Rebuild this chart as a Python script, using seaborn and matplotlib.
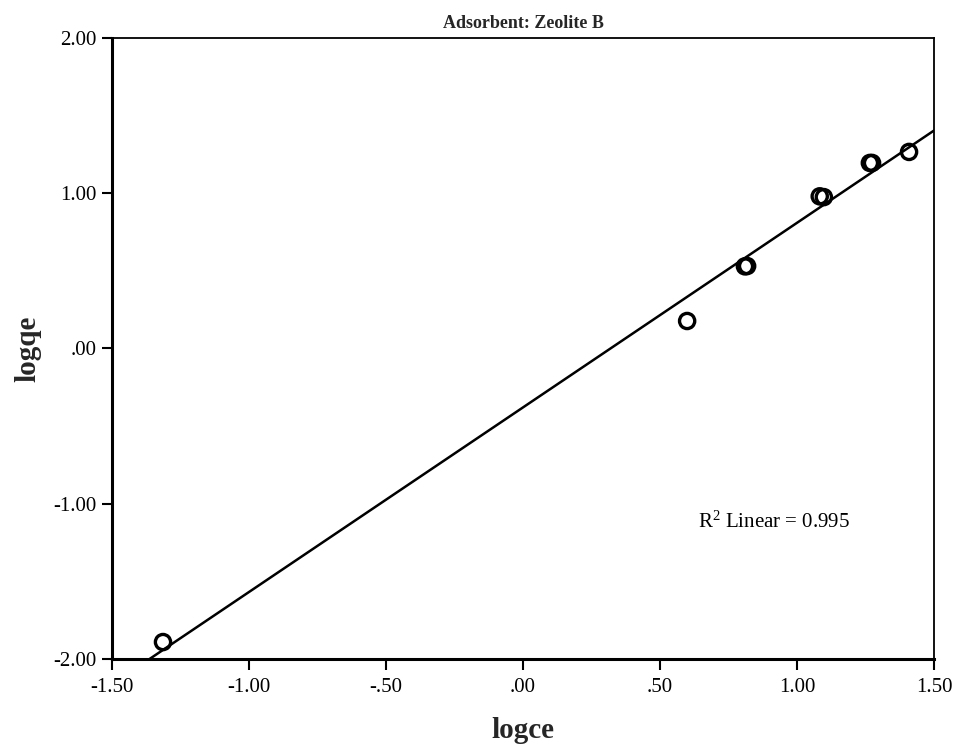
import numpy as np
import pandas as pd
import matplotlib
matplotlib.use("Agg")
import matplotlib.pyplot as plt
import seaborn as sns

# Freundlich isotherm, log-log form
logce = [-1.314, 0.599, 0.810, 0.818, 1.083, 1.098, 1.266, 1.274, 1.409]
logqe = [-1.891, 0.177, 0.529, 0.531, 0.980, 0.975, 1.195, 1.195, 1.266]
x_ticks = [-1.5, -1.0, -0.5, 0.0, 0.5, 1.0, 1.5]
x_tick_labels = ["-1.50", "-1.00", "-.50", ".00", ".50", "1.00", "1.50"]
y_ticks = [-2.0, -1.0, 0.0, 1.0, 2.0]
y_tick_labels = ["-2.00", "-1.00", ".00", "1.00", "2.00"]
fit_label = "R$^{2}$ Linear = 0.995"
title = "Adsorbent: Zeolite B"

df = pd.DataFrame({"logce": logce, "logqe": logqe})

sns.set_theme(style="white")
plt.rcParams["font.family"] = ["Liberation Serif", "DejaVu Serif"]
plt.rcParams["mathtext.fontset"] = "custom"
plt.rcParams["mathtext.rm"] = "Liberation Serif"
plt.rcParams["mathtext.it"] = "Liberation Serif"
plt.rcParams["mathtext.default"] = "regular"

fig = plt.figure(figsize=(9.6, 7.49), dpi=100)
ax = fig.add_axes([0.1167, 0.1202, 0.9729 - 0.1167, 0.9493 - 0.1202])
ax.set_xlim(-1.5, 1.5)
ax.set_ylim(-2.0, 2.0)

sns.regplot(data=df, x="logce", y="logqe", ax=ax, ci=None, truncate=False,
            scatter_kws=dict(s=120, facecolors="none", edgecolors="black",
                             linewidths=2.4, alpha=1, zorder=3),
            line_kws=dict(color="black", linewidth=1.8, zorder=2))
ax.set_xlim(-1.5, 1.5)
ax.set_ylim(-2.0, 2.0)

ax.set_xticks(x_ticks)
ax.set_xticklabels(x_tick_labels)
ax.set_yticks(y_ticks)
ax.set_yticklabels(y_tick_labels)
ax.tick_params(axis="x", direction="out", length=8, width=1.5,
               color="black", labelsize=15, labelcolor="black",
               bottom=True, pad=6)
ax.tick_params(axis="y", direction="out", length=7, width=1.5,
               color="black", labelsize=15, labelcolor="black",
               left=True, pad=4)

for s in ax.spines.values():
    s.set_visible(True)
    s.set_color("black")
    s.set_linewidth(1.3)
ax.spines["left"].set_linewidth(2.2)
ax.spines["bottom"].set_linewidth(2.2)

ax.set_xlabel("logce", fontsize=21, fontweight="bold", labelpad=14)
ax.set_ylabel("logqe", fontsize=21, fontweight="bold", labelpad=9)
ax.set_title(title, fontsize=13, fontweight="bold", pad=7)

ax.text(0.64, -1.12, fit_label, fontsize=15, color="black",
        ha="left", va="center")

fig.savefig("out.png", dpi=100, facecolor="white")
